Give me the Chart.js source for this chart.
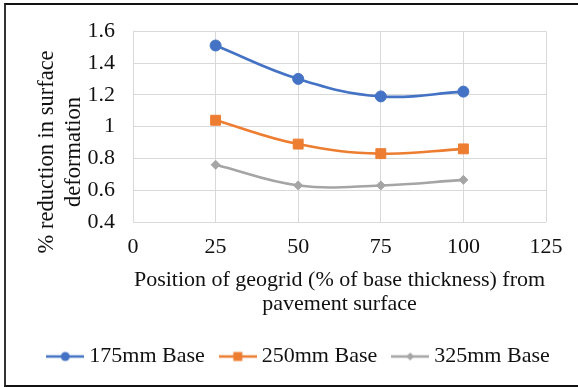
<!DOCTYPE html>
<html>
<head>
<meta charset="utf-8">
<script src="https://cdn.jsdelivr.net/npm/chart.js@4/dist/chart.umd.min.js"></script>
<style>
  html, body { margin: 0; padding: 0; background: #fff; }
  #wrap { position: relative; width: 578px; height: 387px; overflow: hidden; }
  #frame { position: absolute; left: 4px; top: 3px; width: 700px; height: 384px; box-sizing: border-box;
           border-top: 2px solid #111; border-left: 2px solid #333; border-bottom: 2px solid #111; pointer-events: none; }
  canvas { position: absolute; left: 0; top: 0; }
</style>
</head>
<body>
<div id="wrap">
  <canvas id="c" width="578" height="387"></canvas>
  <div id="frame"></div>
</div>
<script>
const positions = [25, 50, 75, 100];
const base175 = [1.51, 1.30, 1.19, 1.22];
const base250 = [1.04, 0.89, 0.83, 0.86];
const base325 = [0.76, 0.63, 0.63, 0.665];
const seriesNames = ['175mm Base', '250mm Base', '325mm Base'];
const xTickLabels = ['0', '25', '50', '75', '100', '125'];
const yTickLabels = ['0.4', '0.6', '0.8', '1', '1.2', '1.4', '1.6'];
const xTitle = ['Position of geogrid (% of base thickness) from', 'pavement surface'];
const yTitle = ['% reduction in surface         ', 'deformation         '];

const colors = ['#4472C4', '#ED7D31', '#A5A5A5'];
const styles = ['circle', 'rect', 'rectRot'];
const radii = [5.5, 7, 4.5];
const FONT = 'Liberation Serif, Times New Roman, serif';
const TXT = '#111';

function legendImage(color, style) {
  const c = document.createElement('canvas');
  c.width = 38; c.height = 14;
  const g = c.getContext('2d');
  g.strokeStyle = color; g.fillStyle = color; g.lineWidth = 2.5;
  g.beginPath(); g.moveTo(0, 7); g.lineTo(38, 7); g.stroke();
  g.beginPath();
  if (style === 'circle') { g.arc(19, 7, 4.5, 0, Math.PI * 2); }
  else if (style === 'rect') { g.rect(14.5, 2.5, 9, 9); }
  else { g.moveTo(19, 3); g.lineTo(23, 7); g.lineTo(19, 11); g.lineTo(15, 7); g.closePath(); }
  g.fill();
  return c;
}

const allSeries = [base175, base250, base325];
const datasets = allSeries.map((vals, i) => ({
  label: seriesNames[i],
  data: positions.map((x, j) => ({x: x, y: vals[j]})),
  borderColor: colors[i],
  backgroundColor: colors[i],
  borderWidth: 2.6,
  tension: 0.4,
  pointStyle: styles[i],
  pointRadius: radii[i],
  pointHoverRadius: radii[i],
  pointBorderWidth: 1,
  fill: false
}));

const imgs = colors.map((c, i) => legendImage(c, styles[i]));

new Chart(document.getElementById('c'), {
  type: 'line',
  data: { datasets },
  options: {
    responsive: false,
    animation: false,
    devicePixelRatio: 1,
    layout: { padding: { left: 24, right: 0, top: 30, bottom: 9.5 } },
    plugins: {
      tooltip: { enabled: false },
      legend: {
        position: 'bottom',
        align: 'center',
        labels: {
          font: { family: FONT, size: 22 },
          color: TXT,
          usePointStyle: true,
          pointStyleWidth: 26,
          boxHeight: 14,
          padding: 20,
          generateLabels: (chart) => chart.data.datasets.map((d, i) => ({
            text: d.label, pointStyle: imgs[i], fillStyle: d.borderColor, strokeStyle: d.borderColor,
            lineWidth: 0, hidden: false, datasetIndex: i, fontColor: TXT
          }))
        }
      }
    },
    scales: {
      x: {
        type: 'linear', min: 0, max: 125,
        afterBuildTicks: (s) => { s.ticks = xTickLabels.map(v => ({value: Number(v)})); },
        ticks: { padding: 12, font: { family: FONT, size: 22 }, color: TXT, maxRotation: 0, autoSkip: false,
                 callback: (v, i) => xTickLabels[i] },
        grid: { color: '#D9D9D9', lineWidth: 1, drawTicks: false },
        border: { display: false },
        title: { display: true, text: xTitle, color: TXT,
                 font: { family: FONT, size: 22, lineHeight: 1.1 }, padding: { top: 4, bottom: 9 } },
        afterFit: (s) => { s.height = 103.5; s.paddingRight = 32; }
      },
      y: {
        type: 'linear', min: 0.4, max: 1.6,
        afterBuildTicks: (s) => { s.ticks = yTickLabels.map(v => ({value: Number(v)})); },
        ticks: { padding: 18, font: { family: FONT, size: 22 }, color: TXT, autoSkip: false,
                 callback: (v, i) => yTickLabels[i] },
        grid: { color: '#D9D9D9', lineWidth: 1, drawTicks: false },
        border: { display: false },
        title: { display: true, text: yTitle, color: TXT,
                 font: { family: FONT, size: 22.5, lineHeight: 1.2 }, padding: { top: 10, bottom: 0 } },
        afterFit: (s) => { s.width = 109; }
      }
    }
  }
});
</script>
</body>
</html>
